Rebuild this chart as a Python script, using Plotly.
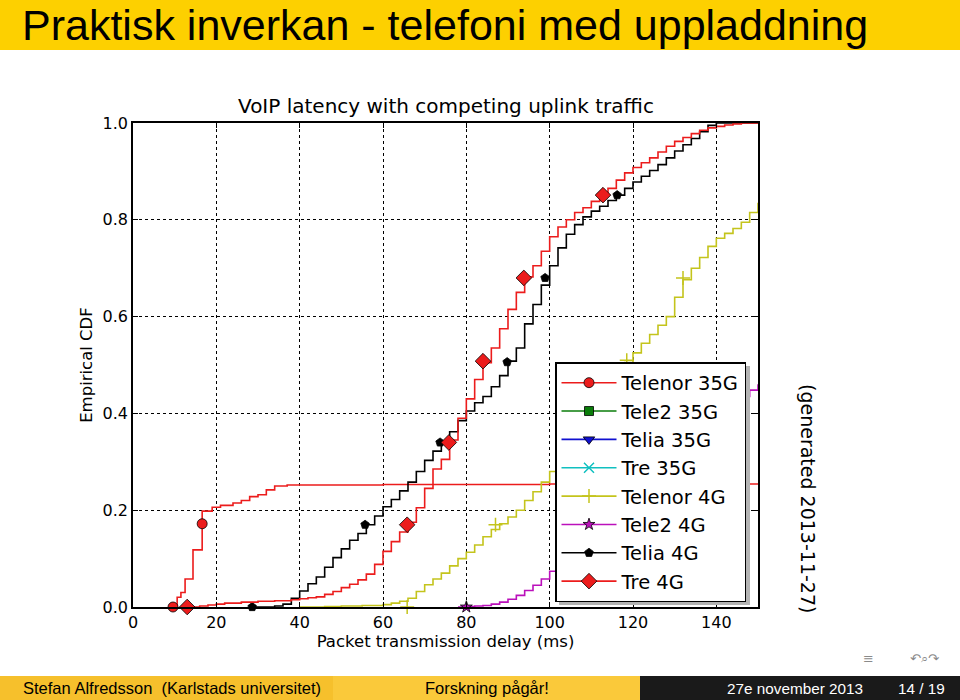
import plotly.graph_objects as go

# ---- data (Packet transmission delay in ms -> empirical CDF) ----
telenor35_x = [9.6, 10.6, 11.5, 12.5, 14.4, 16.6, 19, 21, 24, 26, 28, 30, 32, 34, 37, 60, 100, 150]
telenor35_y = [0, 0.02, 0.03, 0.058, 0.118, 0.198, 0.206, 0.21, 0.215, 0.22, 0.228, 0.232, 0.242, 0.25,
               0.252, 0.253, 0.254, 0.255]
telenor35_mx = [9.6, 16.6]
telenor35_my = [0, 0.172]

telenor4_x = [40, 46, 50, 55, 60, 62,
              64, 66, 68, 70, 72, 74, 76, 78, 80, 82, 84, 86, 88, 90, 92, 94, 96, 98, 100, 102, 104, 106,
              108, 110, 112, 114, 116, 118, 120, 122, 124, 126, 128, 130, 132, 134, 136, 138, 140, 142, 144,
              146, 148, 150]
telenor4_y = [0, 0.001, 0.002, 0.003, 0.005, 0.008,
              0.012, 0.018, 0.032, 0.046, 0.058, 0.07, 0.085, 0.1, 0.113, 0.128, 0.145, 0.16, 0.172, 0.186,
              0.2, 0.22, 0.238, 0.258, 0.28, 0.305, 0.33, 0.358, 0.385, 0.412, 0.44, 0.462, 0.484, 0.505,
              0.525, 0.545, 0.563, 0.582, 0.6, 0.64, 0.676, 0.7, 0.722, 0.745, 0.762, 0.772, 0.782, 0.795,
              0.815, 0.835]
telenor4_mx = [65.8, 87, 104.5, 118.5, 132]
telenor4_my = [0, 0.17, 0.34, 0.51, 0.68]

tele24_x = [78, 80, 82, 84, 86, 88, 90, 92, 94, 96, 98, 100, 102, 104, 108, 112, 116, 120, 124, 128, 132,
            136, 140, 144, 146, 148, 150]
tele24_y = [0, 0.001, 0.002, 0.003, 0.006, 0.01, 0.016, 0.024, 0.034, 0.045, 0.058, 0.074, 0.09, 0.105,
            0.14, 0.175, 0.21, 0.245, 0.28, 0.31, 0.34, 0.37, 0.395, 0.42, 0.435, 0.448, 0.46]
tele24_mx = [80, 112, 132]
tele24_my = [0, 0.17, 0.34]

telia4_x = [28.6, 32, 34,
            36, 38, 40, 42, 44, 46, 48, 50, 52, 54, 56, 58, 60, 62, 64, 66, 68, 70, 72, 74, 76, 78, 80, 82,
            84, 86, 88, 90, 92, 94, 96, 98, 100, 102, 104, 106, 108, 110, 112, 114, 116, 118, 120, 122, 124,
            126, 128, 130, 132, 134, 136, 138, 140, 150]
telia4_y = [0, 0, 0.002,
            0.006, 0.018, 0.033, 0.048, 0.062, 0.082, 0.102, 0.12, 0.138, 0.152, 0.17, 0.188, 0.207, 0.222,
            0.24, 0.258, 0.28, 0.303, 0.322, 0.341, 0.362, 0.385, 0.405, 0.422, 0.435, 0.455, 0.478, 0.508,
            0.535, 0.585, 0.625, 0.665, 0.705, 0.742, 0.77, 0.79, 0.806, 0.818, 0.828, 0.84, 0.851, 0.865,
            0.878, 0.89, 0.902, 0.914, 0.928, 0.942, 0.955, 0.968, 0.982, 0.995, 1.0, 1.0]
telia4_mx = [28.6, 55.7, 73.7, 89.8, 98.9, 116.2]
telia4_my = [0, 0.17, 0.34, 0.506, 0.68, 0.851]

tre4_x = [13, 16, 18, 20, 22, 26, 30, 34, 38,
          40, 42, 44, 46, 48, 50, 52, 54, 56, 58, 60, 62, 64, 66, 68, 70, 72, 74, 76, 78, 80, 82, 84, 86,
          88, 90, 92, 94, 96, 98, 100, 102, 104, 106, 108, 110, 112, 114, 116, 118, 120, 122, 124, 126,
          128, 130, 132, 134, 136, 138, 140, 142, 144, 146, 150]
tre4_y = [0, 0.002, 0.004, 0.006, 0.008, 0.01, 0.012, 0.013, 0.015,
          0.017, 0.019, 0.021, 0.026, 0.032, 0.04, 0.047, 0.056, 0.068, 0.088, 0.115, 0.135, 0.155, 0.175,
          0.205, 0.245, 0.285, 0.305, 0.345, 0.39, 0.43, 0.47, 0.505, 0.535, 0.575, 0.615, 0.65, 0.682,
          0.705, 0.735, 0.765, 0.785, 0.8, 0.815, 0.825, 0.838, 0.848, 0.865, 0.882, 0.897, 0.908, 0.918,
          0.928, 0.94, 0.952, 0.962, 0.97, 0.978, 0.985, 0.99, 0.993, 0.996, 0.998, 1.0, 1.0]
tre4_mx = [13, 65.8, 75.8, 84, 93.8, 112.8]
tre4_my = [0, 0.17, 0.34, 0.508, 0.68, 0.851]

legend_names = ["Telenor 35G", "Tele2 35G", "Telia 35G", "Tre 35G",
                "Telenor 4G", "Tele2 4G", "Telia 4G", "Tre 4G"]
x_ticks = [0, 20, 40, 60, 80, 100, 120, 140]
y_ticks = [0.0, 0.2, 0.4, 0.6, 0.8, 1.0]

# plot area in pixels of the 960x700 page
L, R, T, B = 133, 758, 123, 607


def px(x):
    return (x - L) / (R - L)


def py(y):
    return (B - y) / (B - T)


RED = "#ec1c1c"
styles = [
    dict(color=RED, symbol="circle", size=10),
    dict(color="#0a7d0a", symbol="square", size=9),
    dict(color="#1010d0", symbol="triangle-down", size=10),
    dict(color="#10c0c0", symbol="x-thin", size=10),
    dict(color="#c4c41c", symbol="cross-thin", size=10),
    dict(color="#bb10bb", symbol="star", size=9),
    dict(color="#000000", symbol="pentagon", size=9),
    dict(color=RED, symbol="diamond", size=12),
]

fig = go.Figure()

series = [
    (0, telenor35_x, telenor35_y, telenor35_mx, telenor35_my),
    (4, telenor4_x, telenor4_y, telenor4_mx, telenor4_my),
    (5, tele24_x, tele24_y, tele24_mx, tele24_my),
    (6, telia4_x, telia4_y, telia4_mx, telia4_my),
    (7, tre4_x, tre4_y, tre4_mx, tre4_my),
]

for idx, xs, ys, mx, my in series:
    st = styles[idx]
    fig.add_trace(go.Scatter(x=xs, y=ys, mode="lines", line=dict(color=st["color"], width=1.6, shape="hv"),
                             showlegend=False, hoverinfo="skip"))
    open_sym = st["symbol"] in ("x-thin", "cross-thin")
    fig.add_trace(go.Scatter(
        x=mx, y=my, mode="markers", showlegend=False, cliponaxis=False,
        marker=dict(symbol=st["symbol"], size=st["size"], color=st["color"],
                    line=dict(color=st["color"] if open_sym else "black", width=1.5 if open_sym else 0.8))))

# legend entries (matplotlib style lines with markers)
for name, st in zip(legend_names, styles):
    open_sym = st["symbol"] in ("x-thin", "cross-thin")
    fig.add_trace(go.Scatter(
        x=[None], y=[None], mode="lines+markers", name=name, legendgroup=name,
        line=dict(color=st["color"], width=1.6),
        marker=dict(symbol=st["symbol"], size=st["size"], color=st["color"],
                    line=dict(color=st["color"] if open_sym else "black", width=1.5 if open_sym else 0.8))))

shapes = [
    # slide title bar
    dict(type="rect", xref="paper", yref="paper", x0=px(0), x1=px(960), y0=py(50), y1=py(0),
         fillcolor="#fdd000", line_width=0, layer="below"),
    # footer
    dict(type="rect", xref="paper", yref="paper", x0=px(0), x1=px(333), y0=py(700), y1=py(676),
         fillcolor="#f6c02c", line_width=0, layer="below"),
    dict(type="rect", xref="paper", yref="paper", x0=px(333), x1=px(640), y0=py(700), y1=py(676),
         fillcolor="#fac93a", line_width=0, layer="below"),
    dict(type="rect", xref="paper", yref="paper", x0=px(640), x1=px(960), y0=py(700), y1=py(676),
         fillcolor="#1a1a1a", line_width=0, layer="below"),
    # legend shadow
    dict(type="rect", xref="paper", yref="paper", x0=px(559), x1=px(750), y0=py(605), y1=py(366),
         fillcolor="#b4b4b4", line_width=0, layer="above"),
]

slide_font = "Liberation Sans, Arial, sans-serif"
annotations = [
    dict(text="Praktisk inverkan - telefoni med uppladdning", x=px(20), y=py(25), xanchor="left",
         font=dict(family=slide_font, size=43, color="black")),
    dict(text="VoIP latency with competing uplink traffic", x=0.5, y=1, yanchor="bottom", yshift=3,
         font=dict(family="DejaVu Sans", size=20, color="black")),
    dict(text="(generated 2013-11-27)", x=px(808), y=py(498), textangle=90,
         font=dict(family="DejaVu Sans", size=19, color="black")),
    dict(text="Stefan Alfredsson  (Karlstads universitet)", x=px(172), y=py(688),
         font=dict(family=slide_font, size=16.5, color="black")),
    dict(text="Forskning pågår!", x=px(487), y=py(688), font=dict(family=slide_font, size=16.5, color="black")),
    dict(text="27e november 2013", x=px(865), y=py(688), xanchor="right",
         font=dict(family=slide_font, size=15.3, color="white")),
    dict(text="14 / 19", x=px(947), y=py(688), xanchor="right",
         font=dict(family=slide_font, size=15.3, color="white")),
    dict(text="≡", x=px(868), y=py(658), font=dict(family="DejaVu Sans", size=13, color="#8a8a8a")),
    dict(text="↶⌕↷", x=px(925), y=py(658), font=dict(family="DejaVu Sans", size=13, color="#8a8a8a")),
]
for a in annotations:
    a.setdefault("xref", "paper")
    a.setdefault("yref", "paper")
    a.setdefault("xanchor", "center")
    a.setdefault("yanchor", "middle")
    a.setdefault("showarrow", False)

axis_common = dict(
    showgrid=True, gridcolor="black", griddash="dot", gridwidth=1,
    showline=True, linecolor="black", linewidth=1.6, mirror="ticks",
    ticks="inside", ticklen=5, tickcolor="black", zeroline=False,
    tickfont=dict(family="DejaVu Sans", size=16, color="black"),
)

fig.update_layout(
    width=960, height=700,
    margin=dict(l=L, r=960 - R, t=T, b=700 - B),
    paper_bgcolor="white", plot_bgcolor="white",
    xaxis=dict(range=[0, 150], tickvals=x_ticks,
               title=dict(text="Packet transmission delay (ms)", standoff=4,
                          font=dict(family="DejaVu Sans", size=16.5, color="black")),
               **axis_common),
    yaxis=dict(range=[0, 1], tickvals=y_ticks, tickformat=".1f",
               title=dict(text="Empirical CDF", standoff=6,
                          font=dict(family="DejaVu Sans", size=16.5, color="black")),
               **axis_common),
    legend=dict(x=px(555), y=py(362), xanchor="left", yanchor="top",
                bgcolor="white", bordercolor="black", borderwidth=1.5,
                font=dict(family="DejaVu Sans", size=19.5, color="black"),
                tracegroupgap=0, itemwidth=55),
    shapes=shapes,
    annotations=annotations,
    showlegend=True,
)

# drop the browser's default 8px body margin so the page lines up with the slide
fig.write_html("out.html", config={"displayModeBar": False},
               post_script="document.body.style.margin='0';")
